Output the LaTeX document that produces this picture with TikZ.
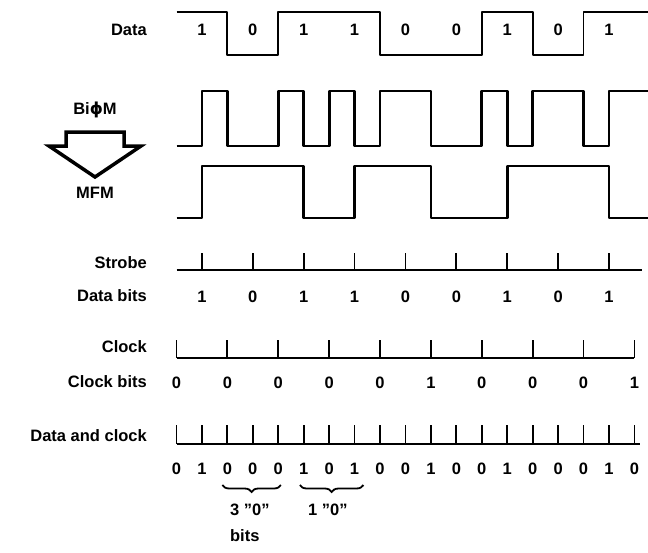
\documentclass[tikz,border=0pt]{standalone}
\usepackage{fontspec}
\setmainfont{Liberation Sans}
\newfontfamily\phifont{DejaVu Sans}
\usetikzlibrary{positioning,decorations.pathreplacing}

\begin{document}
\begin{tikzpicture}[x=1pt, y=-1pt, font=\fontsize{16.5}{19}\selectfont\bfseries,
  lbl/.style={anchor=east, inner sep=0pt},
  bit/.style={inner sep=0pt},
  sig/.style={line width=1.8pt, line join=round},
  wave/.style={line width=2.8pt, line join=round},
  tck/.style={line width=1.8pt},
  brc/.style={decorate, decoration={brace, mirror, amplitude=7pt}, line width=1.8pt}]
  \useasboundingbox (0,0) rectangle (648,552);

  % row labels
  \node[lbl] (data) at (147,30) {Data};
  \node (biphase) at (95,110) {Bi{\phifont ϕ}M};
  \node (mfm) at (95,193) {MFM};
  \node[lbl] (strobe) at (147,263) {Strobe};
  \node[lbl] (databits) at (147,296) {Data bits};
  \node[lbl] (clock) at (147,347) {Clock};
  \node[lbl] (clockbits) at (147,382) {Clock bits};
  \node[lbl] (dataclock) at (147,436) {Data and clock};

  % hollow arrow BiphiM -> MFM
  \draw[line width=3.5pt, line join=miter]
    (66,132) -- (124,132) -- (124,146) -- (141,146) -- (95,177) -- (49,146) -- (66,146) -- cycle;

  % one unit = half a bit cell
  \begin{scope}[shift={(176.5,0)}, x=25.44pt]
    % data (NRZ)
    \draw[sig] (0,12) -- (2,12) -- (2,55) -- (4,55) -- (4,12) -- (8,12) -- (8,55)
      -- (12,55) -- (12,12) -- (14,12) -- (14,55) -- (16,55) -- (16,12) -- (18.55,12);
    \foreach \b [count=\i] in {1,0,1,1,0,0,1,0,1}
      \node[bit] (d\i) at (2*\i-1,30) {\b};

    % BiphiM
    \draw[wave] (0,146) -- (1,146) -- (1,91) -- (2,91) -- (2,146) -- (4,146) -- (4,91)
      -- (5,91) -- (5,146) -- (6,146) -- (6,91) -- (7,91) -- (7,146) -- (8,146) -- (8,91)
      -- (10,91) -- (10,146) -- (12,146) -- (12,91) -- (13,91) -- (13,146) -- (14,146)
      -- (14,91) -- (16,91) -- (16,146) -- (17,146) -- (17,91) -- (18.55,91);

    % MFM
    \draw[wave] (0,218) -- (1,218) -- (1,166) -- (5,166) -- (5,218) -- (7,218) -- (7,166)
      -- (10,166) -- (10,218) -- (13,218) -- (13,166) -- (17,166) -- (17,218) -- (18.55,218);

    % strobe and data bits
    \draw[sig] (0,270) -- (18.3,270);
    \foreach \k in {1,3,...,17}
      \draw[tck] (\k,270) -- (\k,253);
    \foreach \b [count=\i] in {1,0,1,1,0,0,1,0,1}
      \node[bit] (db\i) at (2*\i-1,297) {\b};

    % clock and clock bits
    \draw[sig] (0,358) -- (18,358);
    \foreach \k in {0,2,...,18}
      \draw[tck] (\k,358) -- (\k,340);
    \foreach \b [count=\i] in {0,0,0,0,0,1,0,0,0,1}
      \node[bit] (cb\i) at (2*\i-2,383) {\b};

    % data and clock
    \draw[sig] (0,444) -- (18.2,444);
    \foreach \k in {0,...,18}
      \draw[tck] (\k,444) -- (\k,425);
    \foreach \b [count=\i] in {0,1,0,0,0,1,0,1,0,0,1,0,0,1,0,0,0,1,0}
      \node[bit] (dc\i) at (\i-1,469) {\b};

    % braces
    \draw[brc] (1.8,485) -- (4.1,485);
    \draw[brc] (4.85,485) -- (7.35,485);
    \node[bit, anchor=west] (zeros3) at (2.1,510) {3 ''0''};
    \node[bit] (zeros1) at (5.95,510) {1 ''0''};
    \node[bit, anchor=west] (bits) at (zeros3.west |- 0,536) {bits};
  \end{scope}
\end{tikzpicture}
\end{document}
